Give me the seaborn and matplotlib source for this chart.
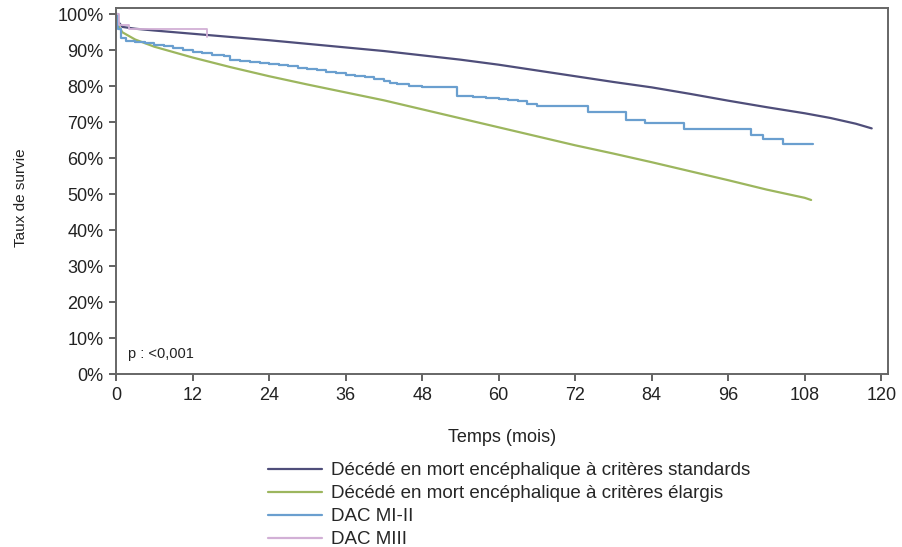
# Kaplan-Meier style survival curves by donor type

import numpy as np
import pandas as pd
import matplotlib
matplotlib.use("Agg")
import matplotlib.pyplot as plt
import seaborn as sns

# -------------------------------
# DATA
# -------------------------------

std_time = [0, 0.3, 1, 3, 6, 12, 18, 24, 30, 36, 42, 48, 54, 60, 66, 72, 78, 84,
            90, 96, 102, 108, 112, 116, 118.5]
std_surv = [100, 98.0, 96.5, 96.0, 95.5, 94.6, 93.7, 92.8, 91.8, 90.8, 89.8, 88.6,
            87.4, 86.0, 84.4, 82.8, 81.2, 79.7, 77.9, 76.0, 74.2, 72.5, 71.2, 69.6, 68.3]

ext_time = [0, 0.3, 1, 3, 6, 9, 12, 18, 24, 30, 36, 42, 48, 54, 60, 66, 72, 78,
            84, 90, 96, 102, 108, 109]
ext_surv = [100, 97.0, 95.0, 93.0, 91.0, 89.5, 88.0, 85.3, 82.8, 80.5, 78.3, 76.1,
            73.6, 71.1, 68.6, 66.1, 63.6, 61.3, 58.9, 56.4, 53.9, 51.3, 49.0, 48.4]

mi_time = [0, 0.3, 0.8, 1.5, 3, 4.5, 6, 7.5, 9, 10.5, 12, 13.5, 15, 17, 17.8, 19.5,
           21, 22.5, 24, 25.5, 27, 28.5, 30, 31.5, 33, 34.5, 36, 37.5, 39, 40.5, 42,
           43, 44, 46, 48, 53.4, 56, 58, 60, 61.5, 63, 64.5, 66, 74, 80, 83, 89,
           99.5, 101.5, 104.6, 109.3]
mi_surv = [100, 96.0, 93.5, 92.6, 92.3, 91.9, 91.5, 91.1, 90.6, 90.1, 89.6, 89.2,
           88.8, 88.4, 87.4, 87.1, 86.8, 86.5, 86.2, 85.9, 85.5, 85.2, 84.8, 84.4,
           84.0, 83.6, 83.2, 82.9, 82.5, 82.0, 81.6, 81.0, 80.6, 80.2, 79.9, 77.4,
           77.0, 76.8, 76.6, 76.3, 75.9, 75.2, 74.4, 72.9, 70.6, 69.9, 68.2, 66.4,
           65.4, 64.0, 64.0]

miii_time = [0, 0.5, 2, 14.2, 14.3]
miii_surv = [100, 97.0, 95.9, 93.6, 93.6]

labels = [
    "Décédé en mort encéphalique à critères standards",
    "Décédé en mort encéphalique à critères élargis",
    "DAC MI-II",
    "DAC MIII",
]
colors = ["#4f4e7a", "#9cb65e", "#6a9fcf", "#d2b0d6"]

x_ticks = list(range(0, 121, 12))
y_ticks = list(range(0, 101, 10))

# -------------------------------
# PLOT
# -------------------------------

sns.set_style("ticks")
plt.rcParams["font.family"] = ["Liberation Sans", "DejaVu Sans"]

fig = plt.figure(figsize=(9.03, 5.47), dpi=100)
ax = fig.add_axes([0.1285, 0.316, 0.8545, 0.669])

sns.lineplot(x=std_time, y=std_surv, color=colors[0], linewidth=1.6,
             label=labels[0], ax=ax)
sns.lineplot(x=ext_time, y=ext_surv, color=colors[1], linewidth=1.6,
             label=labels[1], ax=ax)
sns.lineplot(x=mi_time, y=mi_surv, color=colors[2], linewidth=1.6,
             drawstyle="steps-post", label=labels[2], ax=ax)
sns.lineplot(x=miii_time, y=miii_surv, color=colors[3], linewidth=1.3,
             drawstyle="steps-post", label=labels[3], ax=ax)

ax.set_xlim(0, 121)
ax.set_ylim(0, 101.7)
ax.set_xticks(x_ticks)
ax.set_yticks(y_ticks)
ax.set_yticklabels([f"{v}%" for v in y_ticks])
ax.tick_params(axis="both", labelsize=13, length=5, width=1.3, pad=4,
               color="#555555", labelcolor="#222222", direction="out")

for side in ["left", "right", "top", "bottom"]:
    ax.spines[side].set_visible(True)
    ax.spines[side].set_color("#666666")
    ax.spines[side].set_linewidth(1.4)

ax.set_xlabel("Temps (mois)", fontsize=13, color="#222222", labelpad=18.5)
ax.set_ylabel("Taux de survie", fontsize=11, color="#222222")
ax.yaxis.set_label_coords(-0.114, 0.481)

ax.text(1.8, 4.5, "p : <0,001", fontsize=10.5, color="#222222")

leg = ax.legend(loc="upper left", bbox_to_anchor=(0.197, -0.241), frameon=False,
                fontsize=13.5, handlelength=2.9, handletextpad=0.45,
                labelspacing=0.31, borderaxespad=0, borderpad=0)
for line in leg.get_lines():
    line.set_linewidth(1.6)

fig.savefig("out.png", dpi=100)
plt.close(fig)
